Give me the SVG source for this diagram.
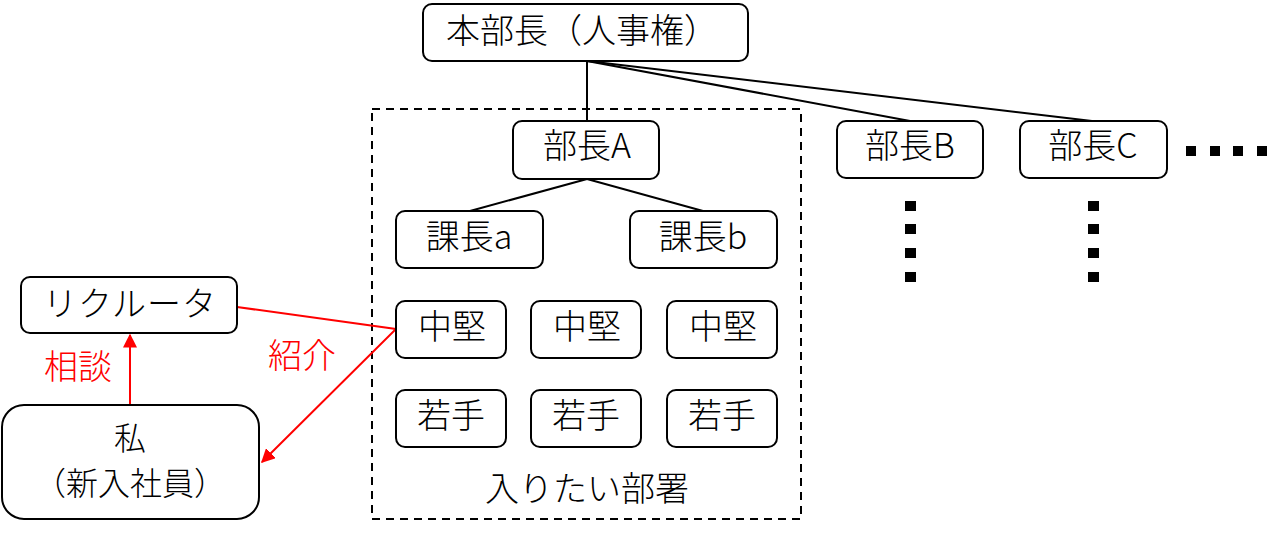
<svg xmlns="http://www.w3.org/2000/svg" width="1280" height="535" viewBox="0 0 1280 535">
<style>
.n{fill:#fff;stroke:#000;stroke-width:2}
.t{font-family:"Noto Sans CJK JP","Noto Sans",sans-serif;font-size:34px;font-weight:300;fill:#000;text-anchor:middle}
.s{font-size:32px}
.r{fill:#f00}
.c{stroke:#000;stroke-width:2;fill:none}
.rl{stroke:#f00;stroke-width:2;fill:none}
.d{fill:#000}
</style>
<defs>
<marker id="ah" viewBox="0 0 10 10" refX="9" refY="5" markerWidth="7" markerHeight="7" orient="auto" markerUnits="strokeWidth">
<path d="M0,0 L10,5 L0,10 z" fill="#f00"/>
</marker>
</defs>
<rect x="372" y="109" width="429" height="410" fill="none" stroke="#000" stroke-width="2" stroke-dasharray="8,6"/>
<g id="connectors">
<line class="c" x1="587" y1="61" x2="587" y2="121"/>
<line class="c" x1="587" y1="61" x2="910" y2="121"/>
<line class="c" x1="587" y1="61" x2="1092" y2="121"/>
<line class="c" x1="587" y1="179" x2="470" y2="211"/>
<line class="c" x1="587" y1="179" x2="703" y2="211"/>
<line class="rl" x1="130" y1="405" x2="130" y2="335" marker-end="url(#ah)"/>
<polyline class="rl" points="237,307 396,329 262,462" marker-end="url(#ah)"/>
</g>
<g id="honbucho"><rect class="n" x="423" y="4" width="325" height="57" rx="9"/><text class="t" x="582" y="43">本部長（人事権）</text></g>
<g id="buchoA"><rect class="n" x="513" y="121" width="146" height="58" rx="9"/><text class="t" x="587" y="158">部長A</text></g>
<g id="buchoB"><rect class="n" x="837" y="121" width="146" height="57" rx="9"/><text class="t" x="910" y="158">部長B</text></g>
<g id="buchoC"><rect class="n" x="1020" y="121" width="147" height="57" rx="9"/><text class="t" x="1093" y="158">部長C</text></g>
<g id="kachoa"><rect class="n" x="396" y="211" width="147" height="57" rx="9"/><text class="t" x="469" y="249">課長a</text></g>
<g id="kachob"><rect class="n" x="630" y="211" width="147" height="57" rx="9"/><text class="t" x="703" y="249">課長b</text></g>
<g id="chuken1"><rect class="n" x="396" y="301" width="110" height="57" rx="9"/><text class="t" x="452" y="339">中堅</text></g>
<g id="chuken2"><rect class="n" x="531" y="301" width="110" height="57" rx="9"/><text class="t" x="587" y="339">中堅</text></g>
<g id="chuken3"><rect class="n" x="667" y="301" width="110" height="57" rx="9"/><text class="t" x="723" y="339">中堅</text></g>
<g id="wakate1"><rect class="n" x="396" y="390" width="110" height="57" rx="9"/><text class="t" x="451" y="428">若手</text></g>
<g id="wakate2"><rect class="n" x="531" y="390" width="110" height="57" rx="9"/><text class="t" x="586" y="428">若手</text></g>
<g id="wakate3"><rect class="n" x="667" y="390" width="110" height="57" rx="9"/><text class="t" x="722" y="428">若手</text></g>
<g id="busho"><text class="t" x="587" y="501">入りたい部署</text></g>
<g id="recruiter"><rect class="n" x="21" y="277" width="216" height="56" rx="9"/><text class="t" x="130" y="316" letter-spacing="1">リクルータ</text></g>
<g id="watashi"><rect class="n" x="2" y="405" width="257" height="114" rx="22"/><text class="t s" x="130" y="450">私</text><text class="t s" x="130" y="495">（新入社員）</text></g>
<g id="labels"><text class="t r" x="78" y="379">相談</text><text class="t r" x="302" y="368">紹介</text></g>
<g id="dots">
<rect class="d" x="1186" y="146" width="10" height="10"/>
<rect class="d" x="1210" y="146" width="10" height="10"/>
<rect class="d" x="1233" y="146" width="10" height="10"/>
<rect class="d" x="1257" y="146" width="10" height="10"/>
<rect class="d" x="905" y="201" width="11" height="10"/>
<rect class="d" x="905" y="224" width="11" height="10"/>
<rect class="d" x="905" y="248" width="11" height="10"/>
<rect class="d" x="905" y="272" width="11" height="10"/>
<rect class="d" x="1088" y="201" width="11" height="10"/>
<rect class="d" x="1088" y="224" width="11" height="10"/>
<rect class="d" x="1088" y="248" width="11" height="10"/>
<rect class="d" x="1088" y="272" width="11" height="10"/>
</g>
</svg>
